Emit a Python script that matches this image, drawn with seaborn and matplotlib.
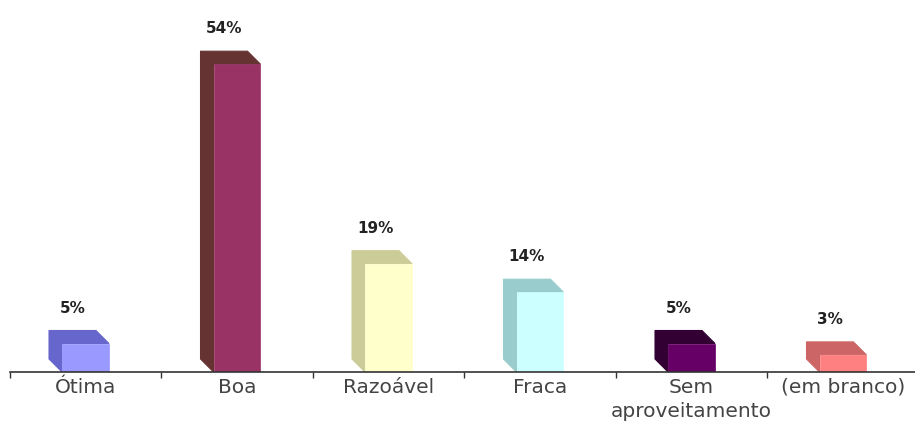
import matplotlib
matplotlib.use("Agg")
import matplotlib.pyplot as plt
from matplotlib.patches import Polygon
import seaborn as sns
import pandas as pd

categories = ["Ótima", "Boa", "Razoável", "Fraca", "Sem\naproveitamento", "(em branco)"]
values = [5, 54, 19, 14, 5, 3]
labels = ["5%", "54%", "19%", "14%", "5%", "3%"]
front_colors = ["#9999FF", "#993366", "#FFFFCC", "#CCFFFF", "#660066", "#FF8080"]
shade_colors = ["#6666CC", "#663333", "#CCCC99", "#99CCCC", "#330033", "#CC6666"]

sns.set_theme(style="white")
plt.rcParams["font.family"] = ["DejaVu Sans"]

W, H, DPI = 915, 430, 100
fig = plt.figure(figsize=(W / DPI, H / DPI), dpi=DPI)
ax_left, ax_bottom, ax_w, ax_h = 9.75, 58, 909, 342
ax = fig.add_axes([ax_left / W, ax_bottom / H, ax_w / W, ax_h / H])

df = pd.DataFrame({"cat": categories, "val": values})
sns.barplot(data=df, x="cat", y="val", hue="cat", palette=front_colors,
            width=0.31, legend=False, ax=ax, saturation=1, linewidth=0, zorder=3)

ax.set_xlim(-0.5, len(categories) - 0.5)
ax.set_ylim(0, 60)

# depth of the pseudo-3D extrusion, in pixels converted to data units
depth_px = 13
dx = depth_px * (len(categories)) / ax_w
dy = depth_px * 60 / ax_h

for bar, front, shade, lab in zip(ax.patches, front_colors, shade_colors, labels):
    bar.set_edgecolor(front)
    bar.set_linewidth(0.5)
    x0 = bar.get_x()
    x1 = x0 + bar.get_width()
    h = bar.get_height()
    side = Polygon([(x0, 0), (x0, h), (x0 - dx, h + dy), (x0 - dx, dy)],
                   closed=True, facecolor=shade, edgecolor=shade, linewidth=0.8, zorder=2)
    top = Polygon([(x0, h), (x1, h), (x1 - dx, h + dy), (x0 - dx, h + dy)],
                  closed=True, facecolor=shade, edgecolor=shade, linewidth=0.8, zorder=2)
    ax.add_patch(side)
    ax.add_patch(top)
    cx = (x0 + x1) / 2 - dx
    ax.annotate(lab, (cx, h + dy), xytext=(0, 16), textcoords="offset points",
                ha="center", va="center", fontsize=11, fontweight="bold",
                color="#222222")

for s in ["top", "right", "left"]:
    ax.spines[s].set_visible(False)
ax.spines["bottom"].set_color("#333333")
ax.spines["bottom"].set_linewidth(1.2)
ax.spines["bottom"].set_zorder(4)
ax.set_yticks([])
ax.set_xlabel("")
ax.set_ylabel("")
ax.set_xticks(range(len(categories)))
ax.set_xticklabels(categories, fontsize=14.5, color="#444444", linespacing=1.35)
ax.tick_params(axis="x", which="major", length=0, pad=4)
ax.set_xticks([i - 0.5 for i in range(len(categories) + 1)], minor=True)
ax.tick_params(axis="x", which="minor", length=4, width=1, color="#333333",
               direction="out", bottom=True)
ax.grid(False)

fig.savefig("out.png", dpi=DPI, facecolor="white")
